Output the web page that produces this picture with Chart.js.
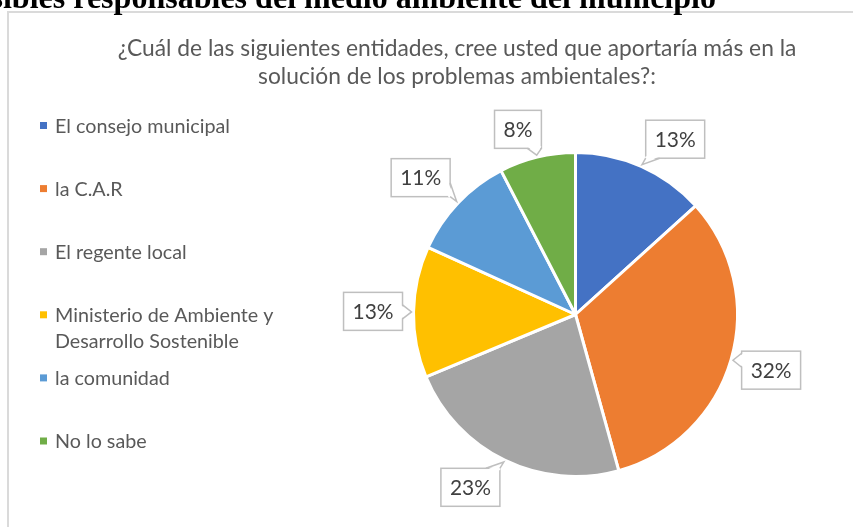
<!DOCTYPE html>
<html><head><meta charset="utf-8">
<script src="https://cdn.jsdelivr.net/npm/chart.js@4"></script>
<style>
html,body{margin:0;padding:0;background:#fff;overflow:hidden;width:853px;height:527px;}
#frame{position:absolute;left:7px;top:11px;width:900px;height:600px;border:2px solid #dadada;}
canvas{position:absolute;left:0;top:0;}
</style></head>
<body>
<div id="frame"></div>
<canvas id="c" width="853" height="527"></canvas>
<script>
// ---- data ----
const headingText = "posibles responsables del medio ambiente del municipio";
const titleLines = ["¿Cuál de las siguientes entidades, cree usted que aportaría más en la", "solución de los problemas ambientales?:"];
const categories = ["El consejo municipal", "la C.A.R", "El regente local", "Ministerio de Ambiente y Desarrollo Sostenible", "la comunidad", "No lo sabe"];
const shares = [13.3, 32.4, 23.0, 13.1, 10.6, 7.6];
const sliceColors = ["#4472C4", "#ED7D31", "#A5A5A5", "#FFC000", "#5B9BD5", "#70AD47"];

// ---- styling helpers ----
const FAMILY = 'Lato, "Open Sans", sans-serif';
const mctx = document.createElement('canvas').getContext('2d');
function fitSize(text, weight, family, target) {
  mctx.font = weight + ' 100px ' + family;
  return 100 * target / mctx.measureText(text).width;
}
const titleSize = fitSize(titleLines[0], 'normal', FAMILY, 679);
const legendSize = fitSize(categories[0], 'normal', FAMILY, 175);
const labelSize = fitSize('13%', 'normal', FAMILY, 41);
const headingSize = fitSize('responsables del medio ambiente del municipio', 'bold', '"Liberation Serif"', 643);

const decorPlugin = {
  id: 'decor',
  afterDraw(chart) {
    const ctx = chart.ctx;
    ctx.save();
    // heading (page text above the chart, clipped by window top)
    ctx.font = 'bold ' + headingSize + 'px "Liberation Serif"';
    ctx.fillStyle = '#000';
    ctx.textAlign = 'right';
    ctx.textBaseline = 'alphabetic';
    ctx.fillText(headingText, 716, 7.5);
    // title
    ctx.font = titleSize + 'px ' + FAMILY;
    ctx.fillStyle = '#595959';
    ctx.textAlign = 'center';
    ctx.textBaseline = 'middle';
    titleLines.forEach((t, i) => ctx.fillText(t, 457, 49 + i * 28));
    // legend
    const labels = chart.data.labels;
    const colors = chart.data.datasets[0].backgroundColor;
    ctx.font = legendSize + 'px ' + FAMILY;
    ctx.textAlign = 'left';
    labels.forEach((lab, i) => {
      const y = 125.5 + i * 63.1;
      ctx.fillStyle = colors[i];
      ctx.fillRect(40, y - 3.5, 7, 7);
      ctx.fillStyle = '#595959';
      const words = lab.split(' ');
      const lines = [];
      let cur = '';
      words.forEach(w => {
        const test = cur ? cur + ' ' + w : w;
        if (ctx.measureText(test).width > 240 && cur) { lines.push(cur); cur = w; } else cur = test;
      });
      lines.push(cur);
      lines.forEach((ln, k) => ctx.fillText(ln, 55, y + 1 + k * 25.7));
    });
    ctx.restore();
  }
};

const calloutPlugin = {
  id: 'callouts',
  afterDatasetsDraw(chart) {
    const ctx = chart.ctx;
    const meta = chart.getDatasetMeta(0);
    const data = chart.data.datasets[0].data;
    const total = data.reduce((a, b) => a + b, 0);
    ctx.save();
    ctx.font = labelSize + 'px ' + FAMILY;
    const clamp1 = v => Math.max(-1, Math.min(1, v));
    meta.data.forEach((arc, i) => {
      const p = arc.getProps(['x', 'y', 'startAngle', 'endAngle', 'outerRadius'], true);
      const mid = (p.startAngle + p.endAngle) / 2;
      const dx = Math.cos(mid), dy = Math.sin(mid);
      const tipX = p.x + dx * (p.outerRadius + 2), tipY = p.y + dy * (p.outerRadius + 2);
      const text = Math.round(data[i] / total * 100) + '%';
      const tw = ctx.measureText(text).width;
      const w = tw + 18, h = 38;
      const cx = tipX + clamp1(3 * dx) * w / 2 + 9 * dx;
      const cy = tipY + clamp1(1.5 * dy) * h / 2 + 7 * dy;
      const L = cx - w / 2, R = cx + w / 2, T = cy - h / 2, B = cy + h / 2;
      // box
      ctx.fillStyle = '#fff';
      ctx.fillRect(L, T, w, h);
      ctx.strokeStyle = '#bfbfbf';
      ctx.lineWidth = 1.5;
      ctx.strokeRect(L, T, w, h);
      // tail
      const ox = tipX < L ? L - tipX : (tipX > R ? tipX - R : 0);
      const oy = tipY < T ? T - tipY : (tipY > B ? tipY - B : 0);
      const bw = 14;
      let b1, b2;
      if (oy >= ox) {
        const ey = tipY < T ? T : B;
        const c = Math.max(L + bw / 2, Math.min(R - bw / 2, tipX));
        const inset = tipY < T ? 2 : -2;
        b1 = [c - bw / 2, ey]; b2 = [c + bw / 2, ey];
        ctx.beginPath(); ctx.moveTo(b1[0], ey + inset); ctx.lineTo(tipX, tipY); ctx.lineTo(b2[0], ey + inset); ctx.closePath();
      } else {
        const ex = tipX < L ? L : R;
        const c = Math.max(T + bw / 2, Math.min(B - bw / 2, tipY));
        const inset = tipX < L ? 2 : -2;
        b1 = [ex, c - bw / 2]; b2 = [ex, c + bw / 2];
        ctx.beginPath(); ctx.moveTo(ex + inset, b1[1]); ctx.lineTo(tipX, tipY); ctx.lineTo(ex + inset, b2[1]); ctx.closePath();
      }
      ctx.fill();
      ctx.beginPath(); ctx.moveTo(b1[0], b1[1]); ctx.lineTo(tipX, tipY); ctx.lineTo(b2[0], b2[1]); ctx.stroke();
      // text
      ctx.fillStyle = '#404040';
      ctx.textAlign = 'center';
      ctx.textBaseline = 'middle';
      ctx.fillText(text, cx, cy + 1);
    });
    ctx.restore();
  }
};

new Chart(document.getElementById('c'), {
  type: 'pie',
  data: {
    labels: categories,
    datasets: [{ data: shares, backgroundColor: sliceColors, borderColor: '#ffffff', borderWidth: 3 }]
  },
  options: {
    responsive: false,
    animation: false,
    layout: { padding: { left: 412, top: 151, right: 114, bottom: 49 } },
    plugins: { legend: { display: false }, tooltip: { enabled: false }, title: { display: false } }
  },
  plugins: [calloutPlugin, decorPlugin]
});
</script>
</body></html>
